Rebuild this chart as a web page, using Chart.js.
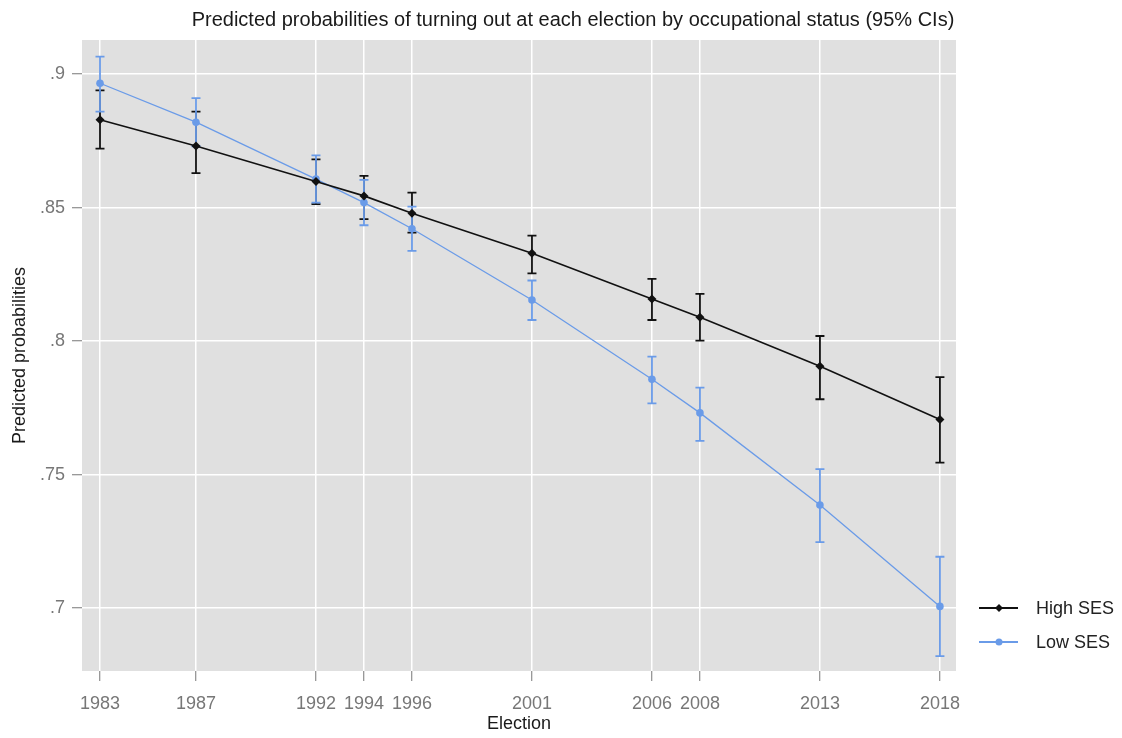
<!DOCTYPE html>
<html>
<head>
<meta charset="utf-8">
<script src="https://cdn.jsdelivr.net/npm/chart.js@4"></script>
<style>
  html, body { margin: 0; padding: 0; background: #fff; }
  #wrap { width: 1122px; height: 738px; }
</style>
</head>
<body>
<div id="wrap"><canvas id="turnoutChart" width="1122" height="738"></canvas></div>
<script>
// elections on the x axis
const years = [1983, 1987, 1992, 1994, 1996, 2001, 2006, 2008, 2013, 2018];

// High SES: estimate and 95% CI
const highMean = [0.8829, 0.8731, 0.8598, 0.8544, 0.8479, 0.8329, 0.8158, 0.8089, 0.7906, 0.7706];
const highLow  = [0.8721, 0.8629, 0.8513, 0.8457, 0.8406, 0.8254, 0.8079, 0.8002, 0.7782, 0.7545];
const highUp   = [0.8939, 0.8860, 0.8681, 0.8619, 0.8556, 0.8395, 0.8233, 0.8177, 0.8019, 0.7865];

// Low SES: estimate and 95% CI
const lowMean = [0.8966, 0.8820, 0.8607, 0.8519, 0.8421, 0.8154, 0.7857, 0.7731, 0.7386, 0.7006];
const lowLow  = [0.8860, 0.8730, 0.8519, 0.8434, 0.8338, 0.8079, 0.7767, 0.7626, 0.7247, 0.6820];
const lowUp   = [0.9066, 0.8910, 0.8696, 0.8604, 0.8504, 0.8227, 0.7942, 0.7826, 0.7520, 0.7192];

const yTicks = [0.7, 0.75, 0.8, 0.85, 0.9];

const seriesNames = ['High SES', 'Low SES'];
const chartTitle = 'Predicted probabilities of turning out at each election by occupational status (95% CIs)';
const black = '#111111';
const blue = '#6a9be8';

const font = '"Liberation Sans", Arial, sans-serif';

const toPoints = (vals) => vals.map((v, i) => ({ x: years[i], y: v }));

// plot background
const plotBg = {
    id: 'plotBg',
    beforeDraw(chart) {
        const { ctx, chartArea: a } = chart;
        ctx.save();
        ctx.fillStyle = '#e0e0e0';
        ctx.fillRect(a.left, a.top, a.right - a.left, a.bottom - a.top);
        ctx.restore();
    }
};

// confidence interval whiskers
const errorBars = {
    id: 'errorBars',
    beforeDatasetsDraw(chart) {
        const { ctx, scales } = chart;
        const bars = [
            { low: highLow, up: highUp, color: black },
            { low: lowLow, up: lowUp, color: blue }
        ];
        ctx.save();
        bars.forEach(b => {
            ctx.strokeStyle = b.color;
            ctx.lineWidth = 1.8;
            years.forEach((yr, i) => {
                const x = scales.x.getPixelForValue(yr);
                const y1 = scales.y.getPixelForValue(b.low[i]);
                const y2 = scales.y.getPixelForValue(b.up[i]);
                ctx.beginPath();
                ctx.moveTo(x, y1); ctx.lineTo(x, y2);
                ctx.moveTo(x - 4.5, y1); ctx.lineTo(x + 4.5, y1);
                ctx.moveTo(x - 4.5, y2); ctx.lineTo(x + 4.5, y2);
                ctx.stroke();
            });
        });
        ctx.restore();
    }
};

// title, centred over the whole figure
const figTitle = {
    id: 'figTitle',
    afterDraw(chart) {
        const { ctx } = chart;
        ctx.save();
        ctx.fillStyle = '#1a1a1a';
        ctx.font = '20px ' + font;
        ctx.textAlign = 'center';
        ctx.textBaseline = 'middle';
        ctx.fillText(chartTitle, 573, 20);
        ctx.restore();
    }
};

// legend to the right of the plot, line with marker
const sideLegend = {
    id: 'sideLegend',
    afterDraw(chart) {
        const { ctx, chartArea: a } = chart;
        const x0 = a.right + 23;
        const rows = [
            { label: seriesNames[0], color: black, y: 608, style: 'diamond' },
            { label: seriesNames[1], color: blue, y: 642, style: 'circle' }
        ];
        ctx.save();
        rows.forEach(r => {
            ctx.strokeStyle = r.color;
            ctx.fillStyle = r.color;
            ctx.lineWidth = 1.8;
            ctx.beginPath();
            ctx.moveTo(x0, r.y); ctx.lineTo(x0 + 39, r.y);
            ctx.stroke();
            const cx = x0 + 20;
            ctx.beginPath();
            if (r.style === 'diamond') {
                ctx.moveTo(cx, r.y - 4); ctx.lineTo(cx + 4, r.y);
                ctx.lineTo(cx, r.y + 4); ctx.lineTo(cx - 4, r.y);
                ctx.closePath();
            } else {
                ctx.arc(cx, r.y, 3.5, 0, Math.PI * 2);
            }
            ctx.fill();
            ctx.fillStyle = '#222';
            ctx.font = '18px ' + font;
            ctx.textBaseline = 'middle';
            ctx.textAlign = 'left';
            ctx.fillText(r.label, x0 + 57, r.y + 1);
        });
        ctx.restore();
    }
};

new Chart(document.getElementById('turnoutChart'), {
    type: 'line',
    data: {
        datasets: [
            {
                label: seriesNames[0],
                data: toPoints(highMean),
                borderColor: black,
                backgroundColor: black,
                borderWidth: 1.6,
                pointStyle: 'rectRot',
                pointRadius: 4.5,
                pointBorderWidth: 0,
                tension: 0
            },
            {
                label: seriesNames[1],
                data: toPoints(lowMean),
                borderColor: blue,
                backgroundColor: blue,
                borderWidth: 1.3,
                pointStyle: 'circle',
                pointRadius: 3.8,
                pointBorderWidth: 0,
                tension: 0
            }
        ]
    },
    options: {
        responsive: false,
        animation: false,
        devicePixelRatio: 1,
        layout: { padding: { left: 0, right: 166, top: 40, bottom: 0 } },
        plugins: {
            legend: { display: false },
            tooltip: { enabled: false },
            title: { display: false }
        },
        scales: {
            x: {
                type: 'linear',
                min: 1982.25,
                max: 2018.67,
                afterBuildTicks: (scale) => { scale.ticks = years.map(v => ({ value: v })); },
                afterFit: (scale) => { scale.height = 67; },
                ticks: {
                    color: '#777',
                    font: { family: font, size: 18 },
                    padding: 12,
                    maxRotation: 0,
                    autoSkip: false,
                    callback: (v) => String(v)
                },
                grid: { color: '#ffffff', lineWidth: 1.5, tickColor: '#777', tickLength: 10, tickWidth: 1 },
                border: { display: false },
                title: {
                    display: true,
                    text: 'Election',
                    color: '#1a1a1a',
                    font: { family: font, size: 18, lineHeight: 1.2 },
                    padding: { top: 0, bottom: 3.5 }
                }
            },
            y: {
                min: 0.6764,
                max: 0.9128,
                afterBuildTicks: (scale) => { scale.ticks = yTicks.map(v => ({ value: v })); },
                afterFit: (scale) => { scale.width = 82; },
                ticks: {
                    color: '#777',
                    font: { family: font, size: 18 },
                    padding: 7,
                    callback: (v) => String(v).replace(/^0/, '')
                },
                grid: { color: '#ffffff', lineWidth: 1.5, tickColor: '#777', tickLength: 10, tickWidth: 1 },
                border: { display: false },
                title: {
                    display: true,
                    text: 'Predicted probabilities',
                    color: '#1a1a1a',
                    font: { family: font, size: 18, lineHeight: 1.2 },
                    padding: { top: 9, bottom: 0 }
                }
            }
        }
    },
    plugins: [plotBg, errorBars, figTitle, sideLegend]
});
</script>
</body>
</html>
